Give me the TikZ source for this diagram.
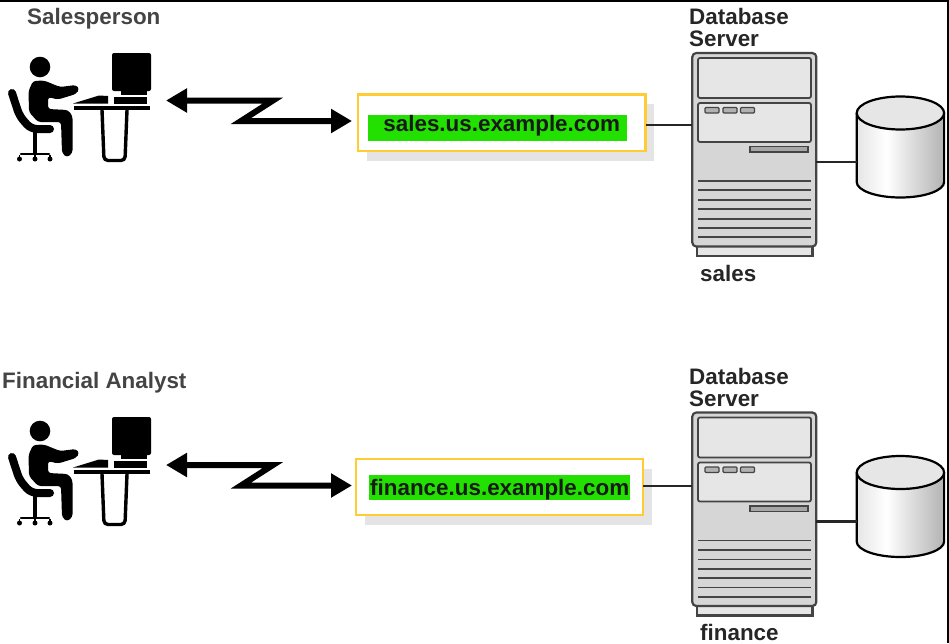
\documentclass[tikz,border=0pt]{standalone}
\usepackage{fontspec}
\setmainfont{Liberation Sans}
\usetikzlibrary{arrows.meta,shadows}
\definecolor{boxyellow}{HTML}{FFCC33}
\definecolor{boxgreen}{HTML}{22E000}
\definecolor{shade}{HTML}{E4E4E4}
\definecolor{srvbody}{HTML}{D6D6D6}
\definecolor{srvpanel}{HTML}{E6E6E6}
\definecolor{srvline}{HTML}{444444}
\definecolor{caption}{HTML}{444444}
\pgfdeclarehorizontalshading{dbshade}{100bp}{color(0bp)=(black!10); color(25bp)=(black!10); color(42bp)=(white); color(75bp)=(black!30); color(100bp)=(black!30)}
\tikzset{
  x=1pt,y=-1pt,
  captionlabel/.style={font=\bfseries\fontsize{22.4}{23}\selectfont,text=caption,anchor=base west,inner sep=0pt},
  serverlabel/.style={font=\bfseries\fontsize{22.4}{23}\selectfont,text=black!85,anchor=base west,inner sep=0pt,align=left},
  hostbox/.style={draw=boxyellow,line width=2.7pt,fill=white,anchor=north west,inner sep=0pt,outer sep=0pt,
     drop shadow={shadow xshift=8.5pt,shadow yshift=-9.5pt,fill=shade,opacity=1}},
  hostlabel/.style={fill=boxgreen,font=\bfseries\fontsize{22.4}{23}\selectfont,text=black!90,inner sep=0pt,anchor=north west},
  zig/.style={line width=6pt,miter limit=10,{Triangle[length=21pt,width=23pt]}-{Triangle[length=21pt,width=23pt]}},
  wire/.style={line width=2.4pt,draw=black!85},
  srvouter/.style={draw=srvline,line width=2.2pt,fill=srvbody,rounded corners=4pt},
  srvfoot/.style={draw=srvline,line width=2.2pt,fill=srvpanel},
  srvpane/.style={draw=srvline,line width=1.8pt,fill=srvpanel,rounded corners=2pt},
  srvvent/.style={draw=srvline,line width=1.8pt},
  dbline/.style={draw=black,line width=2.2pt},
  figure/.style={fill=black,line join=round},
}
\newcommand{\personfig}{%
  \fill[figure] (40,67) circle (10.3);
  \fill[figure,rounded corners=3pt] (28.5,91) -- (33,81) -- (44,80.5) -- (60,87) -- (76,85) -- (79.5,89) -- (76,94) -- (58,99.5) -- (48,97) -- (48,109) -- (68,110) -- (72.5,116) -- (72.5,153) -- (67,157.5) -- (62,153) -- (61,122) -- (38,122) -- (29,112) -- cycle;
  \draw[black,line width=8pt,line cap=round,line join=round,rounded corners=6pt] (12,93) -- (19.5,116) -- (31,129) -- (50,129);
  \draw[black,line width=4pt] (34.5,130) -- (34.5,155);
  \draw[black,line width=2.5pt,line cap=round] (21,154) -- (49,154);
  \draw[black,line width=1.5pt] (19.5,155) -- (19.5,159) (35,155) -- (35,159) (50,155) -- (50,159);
  \fill[black] (19.5,159) circle (2.5) (35,159) circle (2.5) (50,159) circle (2.5);
  \fill[black,rounded corners=2pt] (112,53) rectangle (151,91);
  \fill[black] (121,91) rectangle (147,95);
  \fill[black] (114,97) rectangle (147,104);
  \fill[black] (73,103.5) -- (99,95.5) -- (108,96) -- (108,103.5) -- cycle;
  \fill[black] (74,106) rectangle (150,110);
  \draw[black,line width=3.4pt,rounded corners=4pt] (102,110) -- (104,160.5) -- (125,160.5) -- (127,110);
}
\newcommand{\serverfig}[4]{% node name, db coordinate, inlet coordinate, inlet y
  \draw[srvfoot] (697,240) rectangle (812.5,256);
  \node[srvouter,inner sep=0pt,outer sep=0pt,minimum width=124pt,minimum height=193.5pt,anchor=north west] (#1) at (692.3,53) {};
  \draw[srvpane] (698,58) rectangle (811,98);
  \draw[srvpane] (698,103) rectangle (811,142);
  \foreach \bx in {705,723,740.5}
    \draw[draw=srvline,line width=1.2pt,fill=gray!60,rounded corners=1pt] (\bx,107.5) rectangle ++(14,5.5);
  \draw[draw=srvline,line width=1.6pt,fill=gray!70] (750,146.5) rectangle (808,152);
  \foreach \vy in {181,190.3,200,209.3,218.7,228,237.3}
    \draw[srvvent] (698,\vy) -- (811,\vy);
  \path[shading=dbshade] (856.7,113) -- (856.7,182) arc[start angle=180,end angle=360,x radius=43.7pt,y radius=15.5pt] -- (944.1,113) -- cycle;
  \draw[dbline] (856.7,113) -- (856.7,182) arc[start angle=180,end angle=360,x radius=43.7pt,y radius=15.5pt] -- (944.1,113);
  \draw[dbline,fill=srvpanel] (900.4,113) ellipse[x radius=43.7pt,y radius=16.5pt];
  \coordinate (#2) at (856.7,162);
  \draw[wire] (#1.east |- #2) -- (#2);
  \coordinate (#3) at (#1.west |- 0,#4);
}
\begin{document}
\begin{tikzpicture}
\useasboundingbox (0,0) rectangle (949,643);
\fill[white] (0,0) rectangle (949,643);
% frame
\draw[black,line width=2pt] (0,1) -- (948.2,1) -- (948.2,643);

% --- Salesperson ---
\personfig
\node[captionlabel] (salesperson) at (27,24) {Salesperson};
\node[hostbox,minimum width=287.5pt,minimum height=56.5pt] (boxA) at (358,94.5) {};
\node[hostlabel,minimum width=259pt,text height=16.5pt,text depth=9.5pt] (hostA) at (368,115) {\hspace{13pt}\hspace{-5pt}sales.us.example.com\hspace{14pt}};
\serverfig{srvA}{dbA}{srvinA}{125}
\draw[wire] (boxA.east |- srvinA) -- (srvinA);
\node[serverlabel] (dbsrvA) at (689,46.5) {Database\\[-0.5pt]Server};
\node[serverlabel] (namesales) at (700,281) {sales};
\coordinate (fromA) at (166,100.5);
\coordinate (zaA) at (273,100.5);
\coordinate (zbA) at (241,121);
\coordinate (toA) at (352,121);
\draw[zig] (fromA) -- (zaA) -- (zbA) -- (toA);

% --- Financial Analyst ---
\begin{scope}[shift={(0,364)}]
\personfig
\end{scope}
\node[captionlabel] (analyst) at (2,388) {Financial Analyst};
\node[hostbox,minimum width=287pt,minimum height=56pt] (boxB) at (356,459) {};
\node[hostlabel,minimum width=261pt,text height=20pt,text depth=5pt] (hostB) at (369,475) {finance.us.example.com};
\begin{scope}[shift={(0,359.5)}]
\serverfig{srvB}{dbB}{srvinB}{126.5}
\end{scope}
\draw[wire] (boxB.east |- srvinB) -- (srvinB);
\node[serverlabel] (dbsrvB) at (689,406.5) {Database\\[-0.5pt]Server};
\node[serverlabel] (namefinance) at (700,640) {finance};
\coordinate (fromB) at (166,465);
\coordinate (zaB) at (273,465);
\coordinate (zbB) at (241,485.5);
\coordinate (toB) at (352,485.5);
\draw[zig] (fromB) -- (zaB) -- (zbB) -- (toB);
\end{tikzpicture}
\end{document}
